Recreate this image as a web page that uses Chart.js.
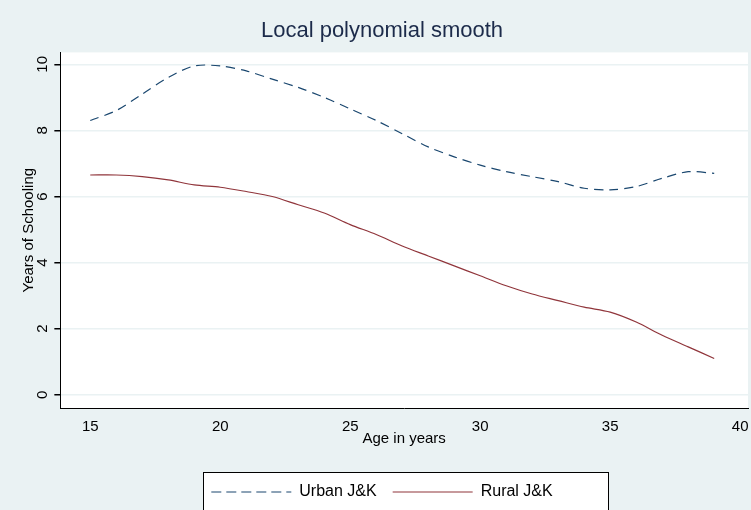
<!DOCTYPE html>
<html><head>
<script src="https://cdn.jsdelivr.net/npm/chart.js@4"></script>
<style>body{margin:0;background:#eaf2f3}#wrap{width:751px;height:510px}</style>
</head><body>
<div id="wrap"><canvas id="myChart"></canvas></div>
<script>
// ages and smoothed years of schooling
var ages = [15,16,17,18,19,20,21,22,23,24,25,26,27,28,29,30,31,32,33,34,35,36,37,38,39];
var urban = [8.3,8.6,9.1,9.6,9.95,9.95,9.8,9.55,9.3,9.0,8.65,8.3,7.9,7.5,7.2,6.95,6.75,6.6,6.45,6.25,6.2,6.3,6.55,6.75,6.7];
var rural = [6.65,6.65,6.6,6.5,6.35,6.28,6.15,6.0,5.75,5.5,5.15,4.85,4.5,4.2,3.9,3.6,3.3,3.05,2.85,2.65,2.5,2.2,1.8,1.45,1.1];
var xTicks = [15,20,25,30,35,40];
var yTicks = [0,2,4,6,8,10];

function pts(ys) {
  return ages.map(function (a, i) { return { x: a, y: ys[i] }; });
}

var extras = {
  id: "extras",
  beforeDraw: function (c) {
    var ctx = c.ctx, a = c.chartArea;
    ctx.save();
    ctx.fillStyle = "#eaf2f3";
    ctx.fillRect(0, 0, c.width, c.height);
    ctx.fillStyle = "#fff";
    ctx.fillRect(a.left, a.top, a.right - a.left, a.bottom - a.top);
    var l = c.legend;
    ctx.fillRect(203, l.top + 4, 405, l.height - 4);
    ctx.restore();
  },
  afterDraw: function (c) {
    var ctx = c.ctx, y = c.scales.y, a = c.chartArea;
    ctx.save();
    ctx.fillStyle = "#000";
    ctx.font = "15px Arial, 'Liberation Sans'";
    ctx.textAlign = "center";
    ctx.textBaseline = "bottom";
    yTicks.forEach(function (v) {
      var py = y.getPixelForValue(v);
      ctx.save();
      ctx.translate(a.left - 10, py);
      ctx.rotate(-Math.PI / 2);
      ctx.fillText(String(v), 0, 0);
      ctx.restore();
    });
    var l = c.legend;
    ctx.strokeStyle = "#000";
    ctx.lineWidth = 1;
    ctx.strokeRect(203.5, l.top + 4.5, 405, l.height - 4);
    ctx.restore();
  }
};

new Chart(document.getElementById("myChart"), {
  type: "line",
  data: {
    datasets: [
      { label: "Urban J&K", data: pts(urban), borderColor: "#1a476f", backgroundColor: "#1a476f", borderDash: [9, 6], borderWidth: 1.2, pointRadius: 0, tension: 0.3 },
      { label: "Rural J&K", data: pts(rural), borderColor: "#90353b", backgroundColor: "#90353b", borderWidth: 1.2, pointRadius: 0, tension: 0.3 }
    ]
  },
  options: {
    animation: false,
    responsive: true,
    maintainAspectRatio: false,
    layout: { padding: { left: 16, right: 3, top: 0, bottom: 0 } },
    plugins: {
      title: { display: true, text: "Local polynomial smooth", color: "#1c2b4a", font: { size: 22, family: "Arial, 'Liberation Sans'", weight: "normal" }, padding: { top: 18, bottom: 8 } },
      legend: {
        position: "bottom",
        labels: { color: "#000", boxWidth: 80, boxHeight: 0, padding: 16, font: { size: 16, family: "Arial, 'Liberation Sans'" } }
      },
      tooltip: { enabled: false }
    },
    scales: {
      x: {
        type: "linear", min: 13.85, max: 40.3,
        afterBuildTicks: function (s) { s.ticks = xTicks.map(function (v) { return { value: v }; }); },
        grid: { display: false, drawTicks: true },
        border: { color: "#000" },
        ticks: { color: "#000", font: { size: 15, family: "Arial, 'Liberation Sans'" }, padding: 2, maxRotation: 0 },
        title: { display: true, text: "Age in years", color: "#000", font: { size: 15, family: "Arial, 'Liberation Sans'" }, padding: { top: -8, bottom: 20 } }
      },
      y: {
        min: -0.4, max: 10.36,
        afterBuildTicks: function (s) { s.ticks = yTicks.map(function (v) { return { value: v }; }); },
        grid: { color: "#eaf2f3", lineWidth: 1.5, tickColor: "#000", tickLength: 6 },
        border: { color: "#000" },
        ticks: { color: "rgba(0,0,0,0)", font: { size: 15 }, padding: 4, callback: function () { return "0"; } },
        title: { display: true, text: "Years of Schooling", color: "#000", font: { size: 15, family: "Arial, 'Liberation Sans'" }, padding: { bottom: 0 } }
      }
    }
  },
  plugins: [extras]
});
</script>
</body></html>
